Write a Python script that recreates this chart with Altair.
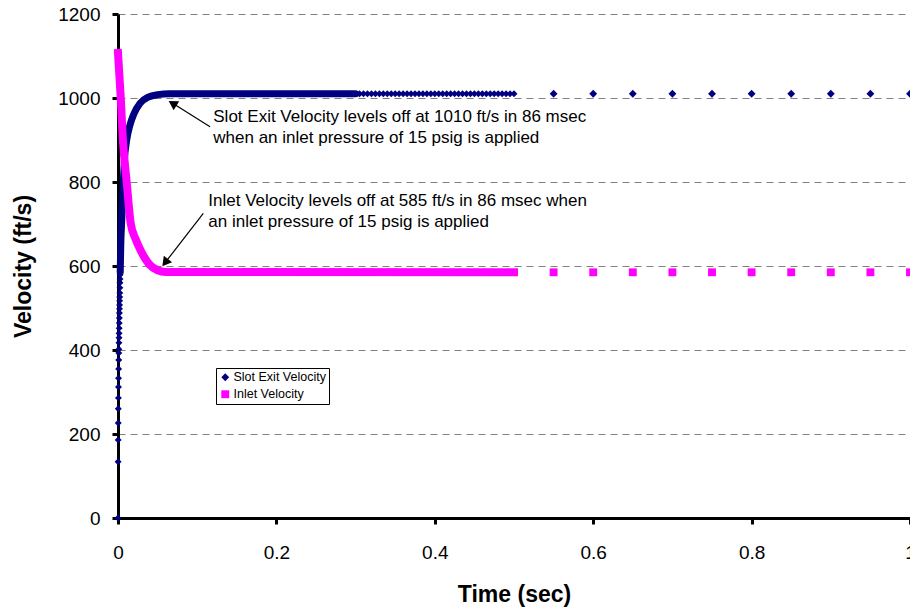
import altair as alt
import pandas as pd

SERIES = ["Slot Exit Velocity", "Inlet Velocity"]
COLORS = ["#000080", "#FF00FF"]

# Slot exit velocity: individually visible markers at the very start
slot_start_t = [0.0, 0.0001, 0.0002, 0.0003, 0.0004, 0.0005, 0.0006, 0.0007, 0.0008, 0.0009,
                0.0010, 0.0011, 0.0012, 0.0013, 0.0014, 0.0015, 0.0016, 0.0017, 0.0018, 0.0019,
                0.0020, 0.0021, 0.0022, 0.0023, 0.0024, 0.0025, 0.0026, 0.0027, 0.0028]
slot_start_v = [0, 134, 186, 226, 260, 286, 312, 333, 355, 376,
                393, 402, 417, 429, 440, 452, 464, 476, 488, 498,
                507, 517, 526, 536, 548, 560, 569, 579, 586]

# Slot exit velocity: dense (solid-looking) part
slot_curve_t = [0.0028, 0.0035, 0.005, 0.0065, 0.008, 0.011, 0.015, 0.020, 0.028, 0.038, 0.050, 0.065, 0.300]
slot_curve_v = [586, 650, 720, 790, 850, 900, 935, 962, 988, 1002, 1008, 1010, 1010]

# Slot exit velocity: dotted-looking markers 0.3 - 0.5 s
slot_dotted_t = [0.305, 0.310, 0.315, 0.320, 0.325, 0.330, 0.335, 0.340, 0.345, 0.350,
                 0.355, 0.360, 0.365, 0.370, 0.375, 0.380, 0.385, 0.390, 0.395, 0.400,
                 0.405, 0.410, 0.415, 0.420, 0.425, 0.430, 0.435, 0.440, 0.445, 0.450,
                 0.455, 0.460, 0.465, 0.470, 0.475, 0.480, 0.485, 0.490, 0.495, 0.500]
slot_dotted_v = [1010, 1010, 1010, 1010, 1010, 1010, 1010, 1010, 1010, 1010,
                 1010, 1010, 1010, 1010, 1010, 1010, 1010, 1010, 1010, 1010,
                 1010, 1010, 1010, 1010, 1010, 1010, 1010, 1010, 1010, 1010,
                 1010, 1010, 1010, 1010, 1010, 1010, 1010, 1010, 1010, 1010]

# Inlet velocity: dense (solid-looking) part
inlet_curve_t = [0.0, 0.0035, 0.006, 0.011, 0.016, 0.022, 0.030, 0.040, 0.050, 0.060, 0.500]
inlet_curve_v = [1107, 1000, 905, 800, 702, 665, 632, 603, 590, 586, 585]

# Sparse markers after 0.5 s
sparse_t = [0.55, 0.60, 0.65, 0.70, 0.75, 0.80, 0.85, 0.90, 0.95, 1.00]
slot_sparse_v = [1010, 1010, 1010, 1010, 1010, 1010, 1010, 1010, 1010, 1010]
inlet_sparse_v = [585, 585, 585, 585, 585, 585, 585, 585, 585, 585]

# Annotations
note_text = ["Slot Exit Velocity levels off at 1010 ft/s in 86 msec",
             "when an inlet pressure of 15 psig is applied",
             "Inlet Velocity levels off at 585 ft/s in 86 msec when",
             "an inlet pressure of 15 psig is applied"]
note_t = [0.1203, 0.1203, 0.1140, 0.1140]
note_v = [942, 892, 744, 694]

arrow_t = [0.1162, 0.1077]
arrow_v = [931.7, 725.5]
arrow_head_t = [0.0705, 0.0607]
arrow_head_v = [985.5, 610.9]
arrow_angle = [302, 218]

FONT = "Liberation Sans, Arial, sans-serif"

xs = alt.Scale(domain=[0, 1], nice=False, zero=False)
ys = alt.Scale(domain=[0, 1200], nice=False)

X = alt.X("t:Q", scale=xs,
          axis=alt.Axis(values=[0, 0.2, 0.4, 0.6, 0.8, 1.0], format="~g",
                        title="Time (sec)", grid=False, labelFlush=False,
                        titleX=396, titleY=76, titleBaseline="middle"))
Y = alt.Y("v:Q", scale=ys,
          axis=alt.Axis(values=[0, 200, 400, 600, 800, 1000, 1200], format="d",
                        title="Velocity (ft/s)", grid=True, labelFlush=False,
                        titleX=-95, titleY=252, titleBaseline="middle", titleAngle=270))

df_slot_start = pd.DataFrame({"t": slot_start_t, "v": slot_start_v})
df_slot_curve = pd.DataFrame({"t": slot_curve_t, "v": slot_curve_v})
df_slot_dotted = pd.DataFrame({"t": slot_dotted_t, "v": slot_dotted_v})
df_inlet_curve = pd.DataFrame({"t": inlet_curve_t, "v": inlet_curve_v})
df_sparse = pd.DataFrame({
    "t": sparse_t + sparse_t,
    "v": slot_sparse_v + inlet_sparse_v,
    "series": [SERIES[0]] * len(sparse_t) + [SERIES[1]] * len(sparse_t),
})
df_notes = pd.DataFrame({"t": note_t, "v": note_v, "text": note_text})
df_arrows = pd.DataFrame({"t": arrow_t, "v": arrow_v, "t2": arrow_head_t,
                          "v2": arrow_head_v, "angle": arrow_angle})

slot_start = alt.Chart(df_slot_start).mark_point(
    filled=True, shape="diamond", size=48, color=COLORS[0], opacity=1
).encode(x=X, y=Y)

slot_line = alt.Chart(df_slot_curve).mark_line(
    color=COLORS[0], strokeWidth=7, interpolate="monotone", strokeCap="round"
).encode(x=X, y=Y)

slot_dotted = alt.Chart(df_slot_dotted).mark_point(
    filled=True, shape="diamond", size=48, color=COLORS[0], opacity=1
).encode(x=X, y=Y)

inlet_line = alt.Chart(df_inlet_curve).mark_line(
    color=COLORS[1], strokeWidth=8, interpolate="monotone", strokeCap="square"
).encode(x=X, y=Y)

leg = alt.Legend(title=None, orient="none", legendX=98, legendY=354,
                 strokeColor="black", fillColor="white", padding=3,
                 labelFont=FONT, labelFontSize=12.5, labelColor="black",
                 symbolSize=62, symbolStrokeWidth=0, rowPadding=4, labelOffset=2)

sparse = alt.Chart(df_sparse).mark_point(filled=True, size=62, opacity=1).encode(
    x=X, y=Y,
    color=alt.Color("series:N", scale=alt.Scale(domain=SERIES, range=COLORS), legend=leg),
    shape=alt.Shape("series:N", scale=alt.Scale(domain=SERIES, range=["diamond", "square"]),
                    legend=leg),
)

notes = alt.Chart(df_notes).mark_text(
    align="left", baseline="alphabetic", font=FONT, fontSize=17, color="black"
).encode(x=X, y=Y, text="text:N")

arrow_lines = alt.Chart(df_arrows).mark_rule(color="black", strokeWidth=1.2).encode(
    x=X, y=Y, x2="t2:Q", y2="v2:Q")

arrow_heads = alt.Chart(df_arrows).mark_point(
    shape="triangle", filled=True, size=110, color="black", opacity=1
).encode(x=alt.X("t2:Q", scale=xs), y=alt.Y("v2:Q", scale=ys),
         angle=alt.Angle("angle:Q", scale=None))

chart = alt.layer(
    slot_start, slot_line, slot_dotted, inlet_line, sparse, notes, arrow_lines, arrow_heads
).properties(
    width=792, height=504,
    autosize=alt.AutoSizeParams(type="none"),
    padding={"left": 118, "top": 14, "right": 0, "bottom": 93},
    background="white",
).configure_view(stroke=None).configure_axis(
    labelFont=FONT, titleFont=FONT, labelFontSize=19, titleFontSize=23,
    titleFontWeight="bold", labelColor="black", titleColor="black",
    domainColor="black", domainWidth=3, tickColor="black", tickWidth=3, tickSize=6,
    gridColor="#808080", gridDash=[7, 5], gridWidth=1,
).configure_axisY(labelPadding=12).configure_axisX(labelPadding=19)

chart.save("out.html", embed_options={"renderer": "svg", "actions": False})
